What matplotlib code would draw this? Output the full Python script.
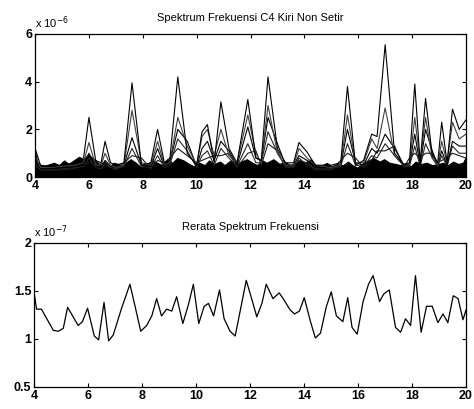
#!/usr/bin/env python3
# -*- coding: utf-8 -*-
"""Spektrum frekuensi C4 kiri non setir dan reratanya."""

import matplotlib
matplotlib.use("Agg")
import matplotlib.pyplot as plt

plt.rcParams['font.family'] = ['Liberation Sans', 'DejaVu Sans']

# frekuensi (Hz) titik puncak spektrum tiap percobaan
f_top = [4.0, 4.2, 4.5, 5.0, 5.5, 5.8, 6.0, 6.25, 6.45, 6.6, 6.8, 7.0, 7.3, 7.6,
         7.95, 8.3, 8.55, 8.8, 9.0, 9.3, 9.65, 10.0, 10.2, 10.4, 10.65, 10.9,
         11.2, 11.5, 11.9, 12.2, 12.4, 12.65, 13.0, 13.3, 13.6, 13.8, 14.1,
         14.4, 15.0, 15.35, 15.6, 15.9, 16.2, 16.5, 16.7, 17.0, 17.35, 17.7,
         17.9, 18.1, 18.3, 18.5, 18.75, 18.95, 19.1, 19.3, 19.5, 19.75, 20.0]

# spektrum percobaan dengan puncak (x 1e-6)
trial_a = [1.2, 0.5, 0.45, 0.5, 0.6, 0.8, 2.5, 0.7, 0.6, 1.5, 0.6, 0.5, 0.6,
           3.95, 0.5, 0.6, 2.0, 0.6, 0.7, 4.2, 1.0, 0.5, 1.9, 2.2, 0.6, 3.15,
           1.2, 0.6, 3.25, 0.8, 0.7, 4.2, 1.2, 0.6, 0.6, 1.45, 1.05, 0.5, 0.5,
           0.6, 3.8, 0.5, 0.7, 1.8, 1.7, 5.55, 1.0, 0.5, 0.6, 3.9, 0.6, 3.3,
           0.9, 0.6, 2.3, 0.6, 2.85, 2.0, 2.4]
trial_b = [0.9, 0.4, 0.4, 0.45, 0.5, 0.6, 1.45, 0.5, 0.5, 1.0, 0.5, 0.4, 0.5,
           2.8, 0.6, 0.5, 1.5, 0.5, 0.6, 2.5, 1.3, 0.5, 1.7, 2.0, 0.9, 2.0,
           0.9, 0.6, 2.6, 1.0, 0.6, 3.0, 1.0, 0.5, 0.5, 1.2, 0.8, 0.5, 0.4,
           0.5, 2.6, 0.6, 0.6, 1.6, 1.2, 2.9, 0.9, 0.5, 0.5, 2.5, 0.6, 2.5,
           0.8, 0.5, 1.5, 0.6, 2.3, 1.6, 1.8]
trial_c = [0.7, 0.35, 0.35, 0.4, 0.45, 0.5, 1.0, 0.45, 0.4, 0.7, 0.45, 0.4, 0.5,
           1.65, 0.5, 0.45, 1.2, 0.45, 0.6, 2.0, 1.5, 0.45, 1.2, 1.5, 0.7, 1.5,
           1.1, 0.5, 2.1, 0.8, 0.7, 2.5, 1.4, 0.5, 0.5, 0.9, 0.7, 0.4, 0.4,
           0.5, 2.0, 0.6, 0.5, 1.2, 1.0, 1.8, 1.2, 0.5, 0.5, 1.8, 0.5, 2.0,
           1.1, 0.5, 1.1, 0.5, 1.5, 1.3, 1.3]
trial_d = [0.6, 0.3, 0.3, 0.35, 0.4, 0.45, 0.8, 0.4, 0.35, 0.6, 0.4, 0.35, 0.45,
           1.2, 0.45, 0.4, 0.9, 0.4, 0.5, 1.6, 1.1, 0.4, 0.9, 1.1, 0.5, 1.2,
           0.8, 0.45, 1.4, 0.6, 0.6, 1.9, 1.0, 0.45, 0.45, 0.7, 0.6, 0.35, 0.35,
           0.45, 1.4, 0.5, 0.45, 0.9, 0.8, 1.4, 0.9, 0.45, 0.45, 1.3, 0.45, 1.4,
           0.8, 0.45, 0.9, 0.45, 1.3, 1.0, 1.0]
trial_e = [0.5, 0.3, 0.3, 0.3, 0.35, 0.5, 0.6, 0.6, 0.35, 0.5, 0.45, 0.3, 0.6,
           0.9, 0.8, 0.35, 0.7, 0.6, 0.8, 1.2, 0.9, 0.6, 0.7, 0.8, 0.9, 0.9,
           1.0, 0.4, 1.0, 1.1, 0.5, 1.4, 1.1, 0.4, 0.4, 0.8, 0.5, 0.3, 0.3,
           0.7, 1.0, 0.8, 0.4, 0.7, 1.1, 1.1, 1.3, 0.4, 0.8, 1.0, 0.8, 1.0,
           1.0, 0.6, 0.7, 0.8, 1.0, 0.9, 0.8]

# frekuensi (Hz) spektrum rerata, dipakai juga untuk pita derau
freq = [4.0, 4.09, 4.27, 4.71, 4.89, 5.08, 5.24, 5.63, 5.79, 5.98, 6.23, 6.39,
        6.59, 6.76, 6.93, 7.24, 7.55, 7.74, 7.95, 8.17, 8.36, 8.54, 8.72,
        8.91, 9.10, 9.28, 9.51, 9.72, 9.90, 10.10, 10.30, 10.46, 10.65, 10.87,
        11.04, 11.26, 11.45, 11.86, 12.07, 12.25, 12.44, 12.60, 12.85, 13.08,
        13.25, 13.49, 13.65, 13.83, 14.01, 14.24, 14.42, 14.61, 14.83, 15.01,
        15.20, 15.44, 15.62, 15.78, 15.97, 16.19, 16.39, 16.56, 16.80, 16.96,
        17.16, 17.39, 17.58, 17.76, 17.95, 18.13, 18.34, 18.54, 18.75, 18.96,
        19.15, 19.33, 19.53, 19.71, 19.89, 20.0]

# batas atas pita derau semua percobaan (x 1e-6)
noise_top = [1.05, 0.6, 0.45, 0.6, 0.5, 0.7, 0.55, 0.85, 0.75, 0.95, 0.7, 0.55,
             0.65, 0.45, 0.6, 0.5, 0.75, 0.6, 0.4, 0.55, 0.7, 0.6, 0.5, 0.75,
             0.6, 0.8, 0.7, 0.55, 0.45, 0.6, 0.5, 0.7, 0.55, 0.65, 0.5, 0.7,
             0.55, 0.75, 0.6, 0.5, 0.7, 0.6, 0.75, 0.55, 0.65, 0.5, 0.6, 0.7,
             0.6, 0.75, 0.5, 0.45, 0.6, 0.45, 0.55, 0.5, 0.65, 0.5, 0.4, 0.6,
             0.7, 0.8, 0.65, 0.75, 0.6, 0.55, 0.5, 0.6, 0.45, 0.65, 0.55, 0.6,
             0.5, 0.55, 0.6, 0.5, 0.65, 0.55, 0.6, 0.85]

# rerata spektrum (x 1e-7)
mean_spec = [1.48, 1.31, 1.31, 1.09, 1.08, 1.11, 1.33, 1.14, 1.18, 1.32, 1.03,
             0.99, 1.38, 0.98, 1.04, 1.32, 1.57, 1.34, 1.08, 1.14, 1.24, 1.42,
             1.24, 1.31, 1.29, 1.44, 1.16, 1.36, 1.57, 1.16, 1.34, 1.37, 1.24,
             1.51, 1.21, 1.08, 1.03, 1.61, 1.41, 1.23, 1.37, 1.57, 1.42, 1.48,
             1.41, 1.30, 1.26, 1.29, 1.43, 1.18, 1.01, 1.06, 1.34, 1.49, 1.24,
             1.18, 1.43, 1.12, 1.05, 1.39, 1.57, 1.66, 1.39, 1.47, 1.51, 1.12,
             1.07, 1.21, 1.14, 1.66, 1.07, 1.34, 1.34, 1.17, 1.26, 1.17, 1.45,
             1.42, 1.20, 1.30]

xticks = [4, 6, 8, 10, 12, 14, 16, 18, 20]


def style_axes(ax):
    ax.set_xlim(4, 20)
    ax.set_xticks(xticks)
    ax.tick_params(direction='in', top=True, right=True, length=3,
                   labelsize=9, width=0.8, pad=2)
    for lab in ax.get_xticklabels() + ax.get_yticklabels():
        lab.set_fontweight('bold')
    for s in ax.spines.values():
        s.set_linewidth(0.9)


fig = plt.figure(figsize=(4.74, 4.09), dpi=100)
ax1 = fig.add_axes([0.074, 0.567, 0.909, 0.350])
ax2 = fig.add_axes([0.072, 0.054, 0.911, 0.352])

ax1.fill_between(freq, 0, noise_top, color='black', lw=0.8)
for tr, c in [(trial_e, '0.1'), (trial_d, '0.15'), (trial_c, 'black'),
              (trial_b, '0.25'), (trial_a, 'black')]:
    ax1.plot(f_top, tr, color=c, lw=0.8)
ax1.set_ylim(0, 6)
ax1.set_yticks([0, 2, 4, 6])
style_axes(ax1)
ax1.set_title('Spektrum Frekuensi C4 Kiri Non Setir', fontsize=8, pad=9)
ax1.text(0.0, 1.02, r'x 10$^{-6}$', transform=ax1.transAxes, fontsize=8,
         ha='left', va='bottom')

ax2.plot(freq, mean_spec, color='black', lw=0.9)
ax2.set_ylim(0.5, 2)
ax2.set_yticks([0.5, 1, 1.5, 2])
ax2.set_yticklabels(['0.5', '1', '1.5', '2'])
style_axes(ax2)
ax2.set_title('Rerata Spektrum Frekuensi', fontsize=8, pad=9)
ax2.text(0.0, 1.02, r'x 10$^{-7}$', transform=ax2.transAxes, fontsize=8,
         ha='left', va='bottom')

fig.savefig('out.png', dpi=100)
